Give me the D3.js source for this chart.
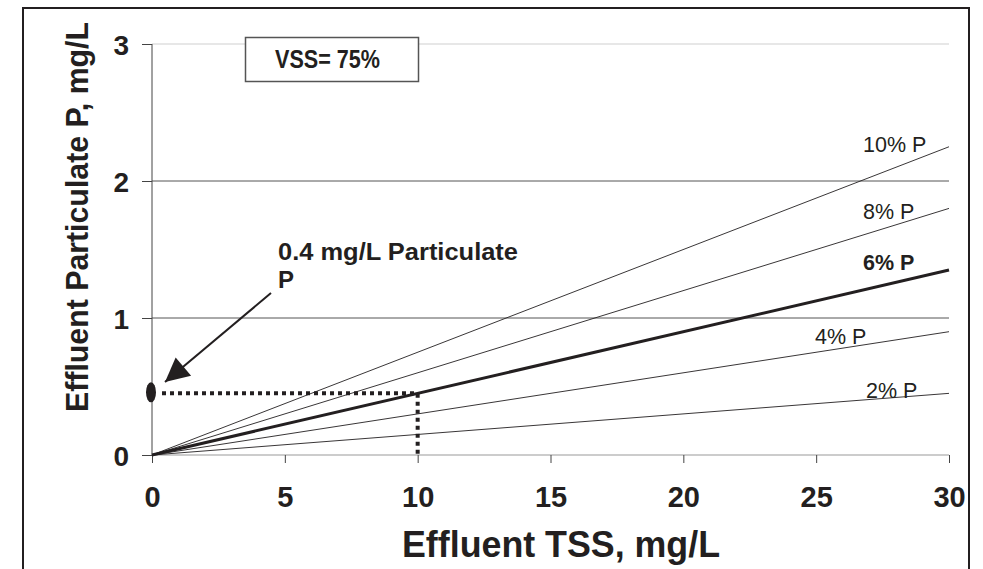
<!DOCTYPE html>
<html><head><meta charset="utf-8">
<script src="https://cdn.jsdelivr.net/npm/d3@7"></script>
<style>
body{margin:0;background:#fff;}
svg text{font-family:"Liberation Sans",Arial,sans-serif;fill:#231f20;}
</style></head>
<body><svg id="c" width="983" height="569"></svg>
<script>
const tssPoints = [0, 30];
const seriesNames = ["2% P", "4% P", "6% P", "8% P", "10% P"];
const seriesValues = [
  [0, 0.45],
  [0, 0.90],
  [0, 1.35],
  [0, 1.80],
  [0, 2.25]
];
const xTicks = [0, 5, 10, 15, 20, 25, 30];
const yTicks = [0, 1, 2, 3];
const markerTSS = 10;
const markerP = 0.45;
const noteText = ["0.4 mg/L Particulate", "P"];
const boxText = "VSS= 75%";

const svg = d3.select("#c");
const x = d3.scaleLinear().domain([0, 30]).range([152, 949]);
const y = d3.scaleLinear().domain([0, 3]).range([455, 44]);

// outer frame (no bottom)
svg.append("path").attr("d", "M23,569 V8 H969 V569")
  .attr("fill", "none").attr("stroke", "#231f20").attr("stroke-width", 2);

// gridlines
yTicks.filter(d => d > 0).forEach(d => {
  svg.append("line").attr("x1", x(0)).attr("x2", x(30)).attr("y1", y(d)).attr("y2", y(d))
    .attr("stroke", d === 3 ? "#cfcfcf" : "#555").attr("stroke-width", 1);
});

// y axis
const yAxis = svg.append("g").attr("transform", `translate(${x(0)},0)`)
  .call(d3.axisLeft(y).tickValues(yTicks).tickSize(10).tickPadding(13).tickFormat(d3.format("d")));
yAxis.select(".domain").attr("stroke", "#444").attr("d", `M0,${y(3)}V${y(0)}`);
yAxis.selectAll(".tick line").attr("stroke", "#444");
yAxis.selectAll(".tick text").attr("font-size", 28).attr("font-weight", "bold")
  .attr("font-family", "'Liberation Sans',Arial,sans-serif").attr("fill", "#231f20").attr("dy", "0.38em");

// x axis
const xAxis = svg.append("g").attr("transform", `translate(0,${y(0)})`)
  .call(d3.axisBottom(x).tickValues(xTicks).tickSize(8).tickFormat(d3.format("d")));
xAxis.select(".domain").attr("stroke", "#999").attr("d", `M${x(0)},0H${x(30)}`);
xAxis.selectAll(".tick line").attr("stroke", "#444");
xAxis.selectAll(".tick text").attr("font-size", 29).attr("font-weight", "bold")
  .attr("font-family", "'Liberation Sans',Arial,sans-serif").attr("fill", "#231f20")
  .attr("y", 52).attr("dy", 0);

// series lines
const line = d3.line().x((d, i) => x(tssPoints[i])).y(d => y(d));
seriesValues.forEach((vals, k) => {
  svg.append("path").datum(vals).attr("d", line).attr("fill", "none")
    .attr("stroke", "#231f20").attr("stroke-width", k === 2 ? 3 : 0.9);
});

// series labels
const labelPos = [
  {x: 866, y: 398}, {x: 815, y: 344}, {x: 863, y: 270}, {x: 863, y: 219}, {x: 863, y: 152}
];
seriesNames.forEach((n, k) => {
  svg.append("text").attr("x", labelPos[k].x).attr("y", labelPos[k].y)
    .attr("font-size", 21.5).attr("font-weight", k === 2 ? "bold" : "normal").text(n);
});

// dotted marker lines
svg.append("path")
  .attr("d", `M${x(0) + 10},${y(markerP)} H${x(markerTSS)} V${y(0)}`)
  .attr("fill", "none").attr("stroke", "#231f20").attr("stroke-width", 4)
  .attr("stroke-dasharray", "4,4");

// ellipse marker
svg.append("ellipse").attr("cx", x(0) - 1).attr("cy", y(markerP) - 1).attr("rx", 5).attr("ry", 10)
  .attr("fill", "#231f20");

// arrow
svg.append("defs").append("marker").attr("id", "ah").attr("viewBox", "0 0 10 10")
  .attr("refX", 10).attr("refY", 5)
  .attr("markerUnits", "userSpaceOnUse").attr("orient", "auto")
  .attr("markerWidth", 30).attr("markerHeight", 24)
  .append("path").attr("d", "M0,0 L10,5 L0,10 z").attr("fill", "#231f20");
svg.append("line").attr("x1", 271).attr("y1", 293).attr("x2", 165).attr("y2", 382)
  .attr("stroke", "#231f20").attr("stroke-width", 2).attr("marker-end", "url(#ah)");

// note text
svg.append("text").attr("x", 278).attr("y", 260).attr("font-size", 24).attr("font-weight", "bold")
  .attr("textLength", 240).attr("lengthAdjust", "spacingAndGlyphs").text(noteText[0]);
svg.append("text").attr("x", 278).attr("y", 288).attr("font-size", 24).attr("font-weight", "bold").text(noteText[1]);

// VSS box
svg.append("rect").attr("x", 245.5).attr("y", 37.5).attr("width", 173).attr("height", 44)
  .attr("fill", "#fff").attr("stroke", "#555").attr("stroke-width", 1.5);
svg.append("text").attr("x", 275).attr("y", 68)
  .attr("font-size", 26).attr("font-weight", "bold").attr("textLength", 105)
  .attr("lengthAdjust", "spacingAndGlyphs").text(boxText);

// axis titles
svg.append("text").attr("x", 402).attr("y", 557)
  .attr("font-size", 36).attr("font-weight", "bold")
  .attr("textLength", 318).attr("lengthAdjust", "spacingAndGlyphs").text("Effluent TSS, mg/L");
svg.append("text").attr("transform", "translate(88,412) rotate(-90)")
  .attr("font-size", 32).attr("font-weight", "bold")
  .attr("textLength", 390).attr("lengthAdjust", "spacingAndGlyphs").text("Effluent Particulate P, mg/L");
</script></body></html>
